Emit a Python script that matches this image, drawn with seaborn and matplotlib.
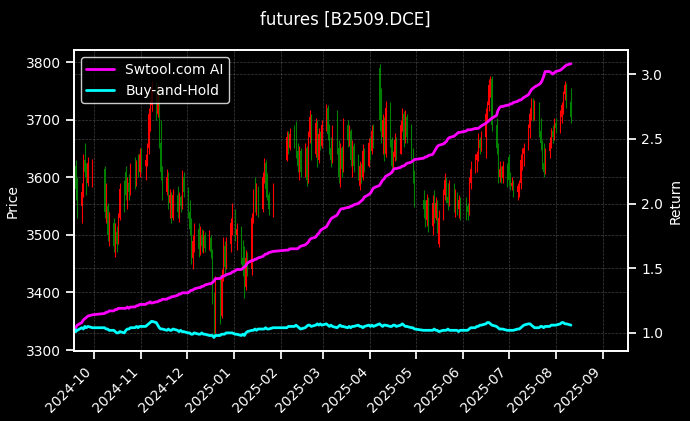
import pandas as pd
import numpy as np
import matplotlib
matplotlib.use("Agg")
import matplotlib.pyplot as plt
import matplotlib.dates as mdates
import seaborn as sns

# ==================== 数据 ====================
TITLE = "futures [B2509.DCE]"
HOLIDAYS = ["2024-10-01", "2024-10-02", "2024-10-03", "2024-10-04", "2024-10-07",
            "2025-01-01", "2025-01-28", "2025-01-29", "2025-01-30", "2025-01-31",
            "2025-02-03", "2025-02-04", "2025-04-04", "2025-05-01", "2025-05-02",
            "2025-05-05", "2025-06-02"]
dates = pd.bdate_range("2024-09-18", "2025-08-11", freq="C", holidays=HOLIDAYS)

opens = [
    3560, 3620, 3580, 3550, 3575, 3630, 3610, 3590, 3590,  # 9月
    3615, 3545, 3550, 3500, 3520, 3480, 3505, 3490, 3530, 3580, 3610, 3565, 3590, 3575, 3615, 3590, 3620, 3610,  # 10月
    3640, 3620, 3630, 3650, 3710, 3725, 3755, 3710, 3745, 3660, 3610, 3575, 3600, 3555, 3570, 3530, 3570, 3540, 3565, 3550, 3600,
    3575, 3540, 3510, 3460, 3490, 3510, 3475, 3500, 3480, 3500, 3478, 3495, 3470, 3390, 3340, 3415, 3360, 3430, 3480, 3445, 3485, 3520,
    3540, 3500, 3510, 3460, 3440, 3410, 3460, 3440, 3530, 3570, 3555, 3580, 3545, 3600, 3625, 3580, 3570, 3540,
    3630, 3670, 3650, 3675, 3695, 3645, 3620, 3645, 3610, 3650, 3595, 3670, 3705, 3640, 3695, 3630, 3675, 3655,
    3690, 3720, 3675, 3650, 3630, 3680, 3650, 3600, 3650, 3615, 3690, 3665, 3680, 3630, 3655, 3620, 3585, 3620, 3600, 3645, 3620,
    3660, 3645, 3680, 3790, 3750, 3670, 3700, 3640, 3720, 3665, 3620, 3635, 3665, 3640, 3690, 3710, 3665, 3705, 3670, 3640, 3600,
    3560, 3545, 3525, 3560, 3515, 3555, 3530, 3555, 3485, 3530, 3570, 3595, 3565, 3555, 3585, 3550, 3570, 3545, 3560,
    3545, 3550, 3540, 3590, 3615, 3630, 3640, 3665, 3650, 3670, 3710, 3725, 3760, 3770, 3690, 3650, 3600, 3615, 3598, 3620,
    3635, 3595, 3585, 3590, 3575, 3585, 3590, 3630, 3640, 3650, 3685, 3710, 3730, 3710, 3725, 3680, 3660, 3625, 3610, 3645, 3660, 3680, 3670,
    3695, 3685, 3705, 3725, 3745, 3760, 3730,
]
highs = [
    3640, 3630, 3600, 3590, 3640, 3660, 3625, 3635, 3632,
    3620, 3590, 3555, 3540, 3530, 3520, 3515, 3538, 3590, 3595, 3620, 3600, 3605, 3625, 3635, 3630, 3640, 3650,
    3650, 3640, 3660, 3720, 3735, 3767, 3765, 3760, 3755, 3700, 3620, 3615, 3610, 3580, 3575, 3580, 3585, 3575, 3570, 3612, 3610,
    3583, 3560, 3530, 3500, 3520, 3521, 3515, 3510, 3509, 3505, 3509, 3500, 3475, 3400, 3428, 3430, 3440, 3497, 3490, 3497, 3530, 3555,
    3545, 3521, 3515, 3491, 3480, 3474, 3470, 3538, 3580, 3600, 3590, 3585, 3610, 3634, 3630, 3607, 3575, 3590,
    3681, 3680, 3686, 3690, 3698, 3659, 3655, 3650, 3659, 3655, 3680, 3716, 3710, 3703, 3700, 3686, 3680, 3700,
    3728, 3725, 3693, 3670, 3690, 3716, 3664, 3660, 3655, 3703, 3700, 3690, 3684, 3664, 3660, 3641, 3629, 3625, 3657, 3650, 3669,
    3670, 3690, 3693, 3797, 3755, 3710, 3705, 3733, 3730, 3670, 3646, 3676, 3670, 3700, 3721, 3715, 3716, 3710, 3693, 3650, 3612,
    3578, 3560, 3571, 3565, 3570, 3578, 3566, 3560, 3543, 3580, 3607, 3600, 3590, 3595, 3590, 3580, 3575, 3570, 3566,
    3566, 3555, 3600, 3629, 3640, 3646, 3676, 3670, 3680, 3720, 3733, 3770, 3776, 3775, 3703, 3660, 3629, 3620, 3629, 3625,
    3641, 3610, 3600, 3595, 3590, 3595, 3641, 3650, 3659, 3693, 3720, 3738, 3738, 3735, 3730, 3703, 3665, 3659, 3650, 3670, 3686, 3690, 3703,
    3703, 3716, 3730, 3750, 3767, 3763, 3755,
]
lows = [
    3550, 3560, 3530, 3520, 3565, 3600, 3570, 3585, 3583,
    3530, 3520, 3490, 3480, 3470, 3462, 3470, 3485, 3525, 3540, 3560, 3545, 3560, 3570, 3580, 3585, 3600, 3600,
    3610, 3595, 3620, 3640, 3680, 3715, 3700, 3705, 3650, 3595, 3560, 3570, 3545, 3530, 3520, 3525, 3530, 3522, 3540, 3545, 3565,
    3530, 3500, 3450, 3440, 3470, 3462, 3465, 3470, 3469, 3470, 3474, 3460, 3380, 3322, 3330, 3345, 3355, 3420, 3430, 3440, 3470, 3500,
    3490, 3474, 3450, 3428, 3391, 3405, 3428, 3430, 3521, 3540, 3535, 3531, 3540, 3590, 3566, 3560, 3535, 3531,
    3629, 3640, 3647, 3650, 3634, 3610, 3595, 3600, 3600, 3585, 3590, 3660, 3630, 3635, 3617, 3625, 3647, 3650,
    3680, 3664, 3640, 3617, 3625, 3640, 3590, 3583, 3600, 3610, 3652, 3655, 3620, 3600, 3610, 3595, 3578, 3590, 3595, 3609, 3617,
    3630, 3641, 3650, 3680, 3659, 3640, 3629, 3635, 3652, 3607, 3610, 3629, 3630, 3640, 3680, 3652, 3660, 3660, 3629, 3590, 3548,
    3530, 3514, 3515, 3505, 3500, 3520, 3525, 3503, 3479, 3525, 3560, 3555, 3543, 3550, 3540, 3531, 3535, 3530, 3526,
    3526, 3526, 3535, 3580, 3607, 3610, 3629, 3640, 3645, 3634, 3700, 3715, 3740, 3680, 3640, 3590, 3592, 3590, 3590, 3583,
    3585, 3578, 3578, 3565, 3560, 3565, 3580, 3612, 3620, 3647, 3669, 3700, 3698, 3700, 3670, 3647, 3615, 3600, 3605, 3634, 3650, 3660, 3665,
    3676, 3676, 3695, 3710, 3735, 3720, 3695,
]
closes = [
    3620, 3580, 3550, 3575, 3630, 3610, 3590, 3625, 3620,
    3540, 3560, 3500, 3520, 3480, 3505, 3485, 3530, 3580, 3555, 3570, 3590, 3575, 3615, 3590, 3620, 3610, 3640,
    3620, 3630, 3650, 3710, 3725, 3755, 3710, 3745, 3660, 3610, 3575, 3600, 3555, 3570, 3530, 3570, 3540, 3565, 3550, 3600, 3575,
    3540, 3510, 3460, 3490, 3510, 3475, 3500, 3480, 3500, 3478, 3495, 3470, 3390, 3340, 3415, 3360, 3430, 3480, 3445, 3485, 3520, 3540,
    3500, 3510, 3460, 3440, 3410, 3460, 3440, 3530, 3570, 3555, 3580, 3545, 3600, 3625, 3580, 3570, 3545, 3580,
    3670, 3650, 3675, 3660, 3645, 3620, 3645, 3610, 3650, 3595, 3670, 3705, 3640, 3695, 3630, 3675, 3655, 3690,
    3720, 3675, 3650, 3630, 3680, 3650, 3600, 3650, 3615, 3690, 3665, 3680, 3630, 3655, 3620, 3605, 3620, 3600, 3645, 3620, 3660,
    3645, 3680, 3660, 3700, 3670, 3700, 3640, 3720, 3665, 3620, 3635, 3665, 3640, 3690, 3710, 3665, 3705, 3670, 3640, 3600, 3560,
    3545, 3525, 3560, 3515, 3555, 3530, 3555, 3510, 3530, 3570, 3595, 3565, 3555, 3585, 3550, 3570, 3545, 3560, 3535,
    3535, 3540, 3590, 3615, 3630, 3640, 3665, 3650, 3670, 3710, 3725, 3760, 3770, 3690, 3650, 3600, 3615, 3598, 3620, 3595,
    3595, 3585, 3590, 3575, 3585, 3590, 3630, 3640, 3650, 3685, 3710, 3730, 3710, 3725, 3680, 3660, 3625, 3610, 3645, 3660, 3680, 3670, 3695,
    3685, 3705, 3725, 3745, 3760, 3730, 3705,
]
ai_return = [
    1.02, 1.04, 1.06, 1.08, 1.10, 1.11, 1.12, 1.13, 1.14,
    1.15, 1.16, 1.16, 1.17, 1.17, 1.18, 1.18, 1.19, 1.19, 1.19, 1.19, 1.20, 1.19, 1.20, 1.20, 1.21, 1.21, 1.22,
    1.22, 1.22, 1.23, 1.23, 1.24, 1.23, 1.24, 1.24, 1.25, 1.25, 1.26, 1.26, 1.27, 1.27, 1.28, 1.28, 1.29, 1.30, 1.30, 1.31, 1.31,
    1.31, 1.32, 1.33, 1.33, 1.34, 1.35, 1.35, 1.36, 1.36, 1.37, 1.38, 1.38, 1.39, 1.40, 1.42, 1.42, 1.43, 1.44, 1.44, 1.45, 1.46, 1.47,
    1.48, 1.49, 1.49, 1.50, 1.51, 1.52, 1.54, 1.56, 1.56, 1.57, 1.57, 1.58, 1.59, 1.60, 1.61, 1.61, 1.62, 1.63,
    1.64, 1.64, 1.65, 1.65, 1.65, 1.65, 1.66, 1.67, 1.68, 1.69, 1.70, 1.72, 1.73, 1.74, 1.76, 1.77, 1.79, 1.80,
    1.82, 1.84, 1.86, 1.88, 1.89, 1.91, 1.93, 1.95, 1.96, 1.96, 1.97, 1.97, 1.98, 1.98, 1.99, 2.00, 2.01, 2.02, 2.03, 2.05, 2.07,
    2.08, 2.10, 2.12, 2.14, 2.16, 2.18, 2.19, 2.21, 2.23, 2.24, 2.26, 2.27, 2.27, 2.28, 2.29, 2.29, 2.30, 2.31, 2.32, 2.33, 2.34,
    2.35, 2.36, 2.36, 2.37, 2.38, 2.40, 2.42, 2.44, 2.45, 2.46, 2.47, 2.48, 2.50, 2.51, 2.52, 2.53, 2.54, 2.55, 2.55,
    2.56, 2.57, 2.57, 2.57, 2.58, 2.58, 2.58, 2.59, 2.60, 2.62, 2.63, 2.64, 2.65, 2.66, 2.68, 2.72, 2.74, 2.75, 2.75, 2.76,
    2.76, 2.77, 2.77, 2.78, 2.79, 2.80, 2.80, 2.81, 2.82, 2.84, 2.86, 2.88, 2.89, 2.90, 2.92, 2.93, 2.95, 2.98, 3.02, 3.02, 3.01, 3.00, 3.01,
    3.02, 3.03, 3.04, 3.05, 3.06, 3.07, 3.08,
]
bh_return = [
    1.03, 1.01, 1.02, 1.04, 1.03, 1.05, 1.04, 1.05, 1.04,
    1.04, 1.03, 1.03, 1.02, 1.02, 1.01, 1.00, 1.00, 1.01, 1.00, 1.02, 1.03, 1.03, 1.04, 1.04, 1.05, 1.04, 1.05,
    1.05, 1.05, 1.06, 1.07, 1.08, 1.09, 1.08, 1.06, 1.04, 1.03, 1.03, 1.02, 1.03, 1.02, 1.02, 1.03, 1.02, 1.01, 1.02, 1.01, 1.01,
    1.00, 1.00, 0.99, 0.99, 1.00, 0.99, 0.99, 1.00, 0.99, 0.99, 0.98, 0.98, 0.98, 0.965, 0.98, 0.98, 0.99, 0.99, 0.99, 1.00, 1.00, 1.00,
    0.99, 0.99, 0.98, 0.99, 0.98, 1.00, 1.01, 1.02, 1.02, 1.03, 1.02, 1.03, 1.03, 1.03, 1.04, 1.03, 1.03, 1.04,
    1.04, 1.05, 1.05, 1.05, 1.06, 1.05, 1.04, 1.03, 1.04, 1.05, 1.06, 1.06, 1.05, 1.06, 1.07, 1.06, 1.07, 1.06,
    1.07, 1.06, 1.05, 1.06, 1.05, 1.04, 1.05, 1.06, 1.05, 1.05, 1.04, 1.05, 1.04, 1.05, 1.05, 1.06, 1.05, 1.05, 1.04, 1.05, 1.06,
    1.05, 1.06, 1.05, 1.07, 1.06, 1.05, 1.06, 1.06, 1.05, 1.05, 1.06, 1.06, 1.05, 1.06, 1.07, 1.06, 1.05, 1.05, 1.04, 1.04, 1.03,
    1.02, 1.02, 1.02, 1.02, 1.02, 1.03, 1.02, 1.02, 1.01, 1.02, 1.02, 1.02, 1.03, 1.02, 1.02, 1.02, 1.02, 1.01, 1.02,
    1.02, 1.02, 1.03, 1.04, 1.04, 1.05, 1.05, 1.06, 1.06, 1.07, 1.08, 1.08, 1.07, 1.06, 1.05, 1.04, 1.03, 1.03, 1.03, 1.02,
    1.02, 1.02, 1.02, 1.02, 1.03, 1.03, 1.04, 1.05, 1.06, 1.07, 1.07, 1.06, 1.05, 1.04, 1.04, 1.05, 1.05, 1.04, 1.05, 1.05, 1.06, 1.06, 1.06,
    1.06, 1.07, 1.08, 1.08, 1.07, 1.07, 1.06,
]

for name, arr in [("opens", opens), ("highs", highs), ("lows", lows), ("closes", closes),
                  ("ai_return", ai_return), ("bh_return", bh_return)]:
    assert len(arr) == len(dates), f"{name}: {len(arr)} vs {len(dates)}"

df = pd.DataFrame({"Date": dates, "Open": opens, "High": highs, "Low": lows, "Close": closes,
                   "AI": ai_return, "BH": bh_return})

# ==================== 风格 ====================
sns.set_theme(style="ticks")
plt.style.use("dark_background")
plt.rcParams["font.family"] = ["DejaVu Sans"]
plt.rcParams.update({"font.size": 10, "axes.labelsize": 10, "xtick.labelsize": 10,
                     "ytick.labelsize": 10, "legend.fontsize": 10})

fig, ax = plt.subplots(figsize=(6.9, 4.21), dpi=100)
fig.subplots_adjust(left=0.107, right=0.910, top=0.881, bottom=0.166)

# ==================== K线 ====================
up = df["Close"] >= df["Open"]
colors = np.where(up, "#ff0000", "#008000")
ax.vlines(df["Date"], df["Low"], df["High"], colors=colors, linewidth=0.8)
body_bottom = np.minimum(df["Open"], df["Close"])
body_height = np.abs(df["Close"] - df["Open"])
ax.bar(df["Date"], body_height, bottom=body_bottom, width=0.6, color=colors, linewidth=0)
ax.set_ylabel("Price")
ax.grid(True, linestyle="--", linewidth=0.5, color="gray", alpha=0.5)

# ==================== 收益曲线 ====================
ax2 = ax.twinx()
sns.lineplot(data=df, x="Date", y="AI", ax=ax2, color="#ff00ff", linewidth=2, label="Swtool.com AI")
sns.lineplot(data=df, x="Date", y="BH", ax=ax2, color="#00ffff", linewidth=2, label="Buy-and-Hold")
ax2.set_ylabel("Return")
ax2.grid(True, axis="y", linestyle="--", linewidth=0.5, color="gray", alpha=0.5)
ax2.set_yticks([1.0, 1.5, 2.0, 2.5, 3.0])
ax2.legend(loc="upper left", facecolor="black", edgecolor="white", labelcolor="white", fontsize=10)

ax.set_xlim(pd.Timestamp("2024-09-17 18:00"), pd.Timestamp("2025-09-17 12:00"))
ax.xaxis.set_major_locator(mdates.MonthLocator())
ax.xaxis.set_major_formatter(mdates.DateFormatter("%Y-%m"))
ax2.set_xlabel("")
ax.set_xlabel("")
plt.setp(ax.get_xticklabels(), rotation=45, ha="right")

fig.suptitle(TITLE, fontsize=12, y=0.975)
fig.savefig("out.png", dpi=100, facecolor="black")
